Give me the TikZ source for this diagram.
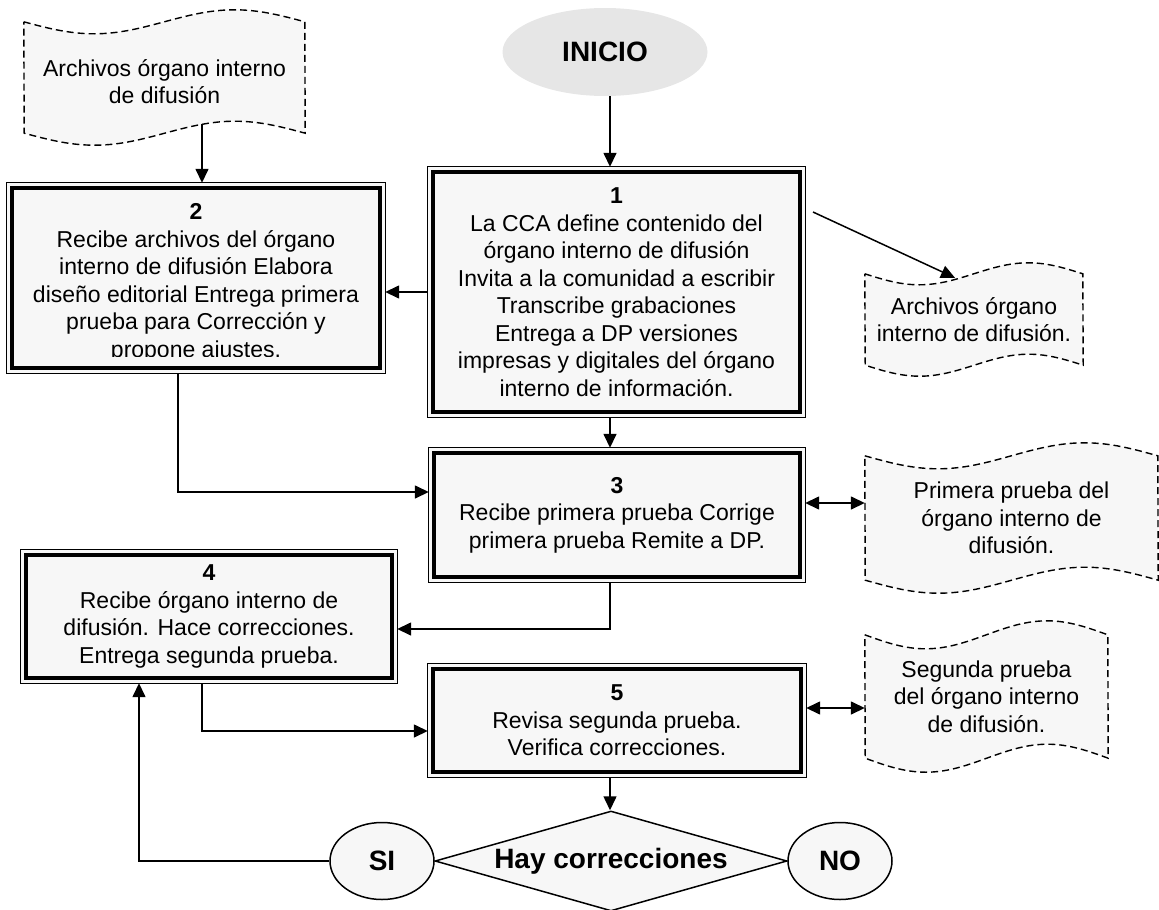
\documentclass[tikz,border=0pt]{standalone}
\usepackage{fontspec}
\setmainfont{Liberation Sans}
\usetikzlibrary{arrows.meta,shapes.geometric,calc}
\pgfdeclarelayer{background}
\pgfsetlayers{background,main}

\definecolor{boxfill}{RGB}{247,247,247}
\definecolor{startfill}{RGB}{230,230,230}

\newcommand\flowbody{\fontsize{23pt}{27.5pt}\selectfont}
\newcommand\flowlabel{\fontsize{28pt}{32pt}\selectfont\bfseries}

% wavy (punched tape) outline behind a document node: name, width, amplitude
\newcommand\tapeoutline[3]{%
  \begin{pgfonlayer}{background}
    \path[docshape] (#1.north west)
      sin ++(#2/4,#3) cos ++(#2/4,-#3) sin ++(#2/4,-#3) cos ++(#2/4,#3)
      -- (#1.south east)
      sin ++(-#2/4,-#3) cos ++(-#2/4,#3) sin ++(-#2/4,#3) cos ++(-#2/4,-#3)
      -- cycle;
  \end{pgfonlayer}}

\tikzset{
  stepbox/.style={rectangle, fill=boxfill, inner sep=0pt, align=center, font=\flowbody},
  steptext/.style={inner sep=0pt, align=center, font=\flowbody},
  frameouter/.style={line width=1.1pt},
  frameinner/.style={line width=4pt},
  docbox/.style={rectangle, inner sep=0pt, align=center, font=\flowbody},
  docshape/.style={draw, fill=boxfill, line width=1.4pt, dash pattern=on 7pt off 4pt},
  link/.style={line width=1.5pt, -{Triangle[length=14pt,width=13pt]}},
  twoway/.style={line width=1.5pt, {Triangle[length=14pt,width=13pt]}-{Triangle[length=14pt,width=13pt]}},
  startnode/.style={ellipse, fill=startfill, inner sep=0pt, minimum width=205pt, minimum height=88pt, font=\flowlabel},
  answer/.style={ellipse, draw, line width=1.5pt, fill=boxfill, inner sep=0pt, minimum width=104pt, minimum height=77pt, font=\flowlabel},
  decision/.style={diamond, draw, line width=1.5pt, fill=boxfill, inner sep=0pt, shape aspect=3.5, minimum width=352pt, minimum height=100pt, font=\flowlabel}
}

\begin{document}
\begin{tikzpicture}[x=1pt,y=-1pt]
\useasboundingbox (0,0) rectangle (1159,910);

% start
\node[startnode] (inicio) at (605,52) {INICIO};

% process steps
\node[stepbox, minimum width=377pt, minimum height=250pt] (b1) at (616.5,292)
  {\textbf{1}\\La CCA define contenido del\\órgano interno de difusión\\Invita a la comunidad a escribir\\Transcribe grabaciones\\Entrega a DP versiones\\impresas y digitales del órgano\\interno de información.};
\node[stepbox, minimum width=378pt, minimum height=190pt] (b2) at (196,278) {};
\begin{scope}
  \clip ($(b2.north west)+(8,8)$) rectangle ($(b2.south east)+(-8,-17)$);
  \node[steptext] (b2text) at ($(b2)+(0,5)$)
    {\textbf{2}\\Recibe archivos del órgano\\interno de difusión Elabora\\diseño editorial Entrega primera\\prueba para Corrección y\\propone ajustes.};
\end{scope}
\node[stepbox, minimum width=376pt, minimum height=134pt] (b3) at (617,515)
  {\textbf{3}\\Recibe primera prueba Corrige\\primera prueba Remite a DP.};
\node[stepbox, minimum width=376pt, minimum height=133pt] (b4) at (209,616.5)
  {\textbf{4}\\Recibe órgano interno de\\difusión. Hace correcciones.\\Entrega segunda prueba.};
\node[stepbox, minimum width=378pt, minimum height=113pt] (b5) at (617,720.5)
  {\textbf{5}\\Revisa segunda prueba.\\Verifica correcciones.};

% double frames of the steps
\foreach \b in {b1,b2,b3,b4,b5} {
  \draw[frameouter] (\b.north west) rectangle (\b.south east);
  \draw[frameinner] ($(\b.north west)+(5.5,5.5)$) rectangle ($(\b.south east)+(-5.5,-5.5)$);
}

% documents
\node[docbox, minimum width=281pt, minimum height=111pt] (docA) at (164.5,77.5) {};
\node[docbox] (docAtext) at ($(docA)+(0,4)$) {Archivos órgano interno\\de difusión};
\tapeoutline{docA}{281}{12}
\node[docbox, minimum width=218pt, minimum height=91pt] (docB) at (974,319.5)
  {Archivos órgano\\interno de difusión.};
\tapeoutline{docB}{218}{11}
\node[docbox, minimum width=293pt, minimum height=124pt] (docC) at (1011.5,518)
  {Primera prueba del\\órgano interno de\\difusión.};
\tapeoutline{docC}{293}{13}
\node[docbox, minimum width=243pt, minimum height=123pt] (docD) at (986.5,696.5)
  {Segunda prueba\\del órgano interno\\de difusión.};
\tapeoutline{docD}{243}{14}

% decision
\node[decision] (dec) at (611,861) {Hay correcciones};
\node[answer] (yes) at (382,861) {SI};
\node[answer] (no) at (840,861) {NO};

% connector guides
\coordinate (col) at (610,0);
\coordinate (aout) at (202,124);
\coordinate (bfree) at (813,212);
\coordinate (c23) at (178,0);
\coordinate (c45) at (202,0);
\coordinate (cback) at (139,0);
\coordinate (p3) at ($(b3.east)+(0,-12)$);
\coordinate (p5) at ($(b5.east)+(0,-12.5)$);

% connectors
\draw[link] (inicio.south -| col) -- (b1.north -| col);
\draw[link] (aout) -- (aout |- b2.north);
\draw[link] (b1.west) -- (b1.west -| b2.east);
\draw[link] (bfree) -- ($(docB.north)+(-19,4)$);
\draw[link] (b1.south -| col) -- (b3.north -| col);
\draw[link] (b2.south -| c23) |- ($(b3.west)+(0,-23)$);
\draw[twoway] (p3) -- (p3 -| docC.west);
\draw[link] (b3.south -| col) |- ($(b4.east)+(0,12.5)$);
\draw[link] (b4.south -| c45) |- ($(b5.west)+(0,10.5)$);
\draw[twoway] (p5) -- (p5 -| docD.west);
\draw[link] (b5.south -| col) -- (dec.north -| col);
\draw[link] (yes.west) -| (b4.south -| cback);
\end{tikzpicture}
\end{document}
